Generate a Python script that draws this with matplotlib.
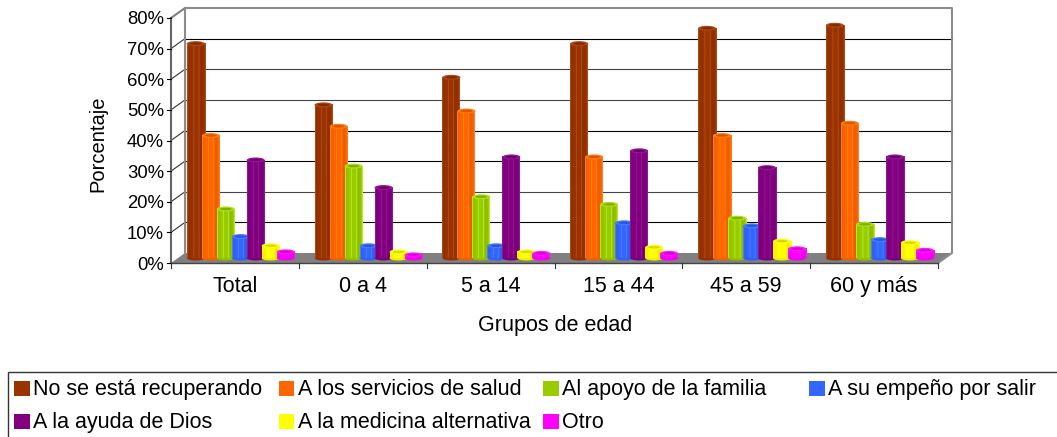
import numpy as np
import matplotlib
matplotlib.use("Agg")
import matplotlib.pyplot as plt
from matplotlib.patches import Ellipse, Polygon, Rectangle
from matplotlib.colors import to_rgb

plt.rcParams['font.family'] = ['Liberation Sans', 'DejaVu Sans']

grupos = ["Total", "0 a 4", "5 a 14", "15 a 44", "45 a 59", "60 y más"]
series = ["No se está recuperando", "A los servicios de salud", "Al apoyo de la familia",
          "A su empeño por salir", "A la ayuda de Dios", "A la medicina alternativa", "Otro"]
colores = ["#993300", "#FF6600", "#99CC00", "#3366FF", "#800080", "#FFFF00", "#FF00FF"]

no_recupera = [70, 50, 59, 70, 75, 76]
servicios = [40, 43, 48, 33, 40, 44]
familia = [16, 30, 20, 17.5, 13, 11]
empeno = [7, 4, 4, 11.5, 10.5, 6]
dios = [32, 23, 33, 35, 29.5, 33]
alternativa = [4, 2, 2, 3.5, 5.5, 5]
otro = [2, 1, 1.5, 1.5, 3, 2.5]
valores = [no_recupera, servicios, familia, empeno, dios, alternativa, otro]
ticks_y = list(range(0, 90, 10))

W, H = 1057, 437
fig = plt.figure(figsize=(W / 100, H / 100), dpi=100)
# front plane of the fake 3d box: x 171-938 px, y 18-263 px
ax = fig.add_axes([171 / W, 1 - 263 / H, (938 - 171) / W, (263 - 18) / H])
ax.set_xlim(0, 6)
ax.set_ylim(0, 80)
ax.axis("off")

px = 6 / (938 - 171)
py = 80 / (263 - 18)
dx, dy = 14 * px, 10 * py

# back wall and floor
ax.add_patch(Polygon([(0, 0), (dx, dy), (6 + dx, dy), (6, 0)], fc="#808080", ec="none", clip_on=False, zorder=1))
for t in ticks_y[1:-1]:
    gris = "#000000" if t in (70, 40, 30, 10) else "#444444"
    ax.plot([dx, 6 + dx], [t + dy, t + dy], color=gris, lw=0.8, clip_on=False, zorder=1)
    ax.plot([0, dx], [t, t + dy], color="#333333", lw=0.8, clip_on=False, zorder=1)
ax.plot([0, dx], [80, 80 + dy], color="#808080", lw=1.5, clip_on=False, zorder=1)
ax.plot([dx, dx, 6 + dx, 6 + dx, 6], [dy, 80 + dy, 80 + dy, dy, 0], color="#8c8c8c", lw=1.5, clip_on=False, zorder=1)
ax.plot([0, 0], [0, 80], color="#666666", lw=1.5, clip_on=False, zorder=2)
ax.plot([0, 6], [0, 0], color="#444444", lw=1, clip_on=False, zorder=2)

for t in ticks_y:
    ax.plot([-4 * px, 0], [t, t], color="k", lw=0.8, clip_on=False, zorder=2)
    ax.text(-7 * px, t, f"{t}%", ha="right", va="center_baseline", fontsize=13.3, color="k")
for i in range(7):
    ax.plot([i, i], [0, -5 * py], color="#333333", lw=0.8, clip_on=False, zorder=2)
for i, g in enumerate(grupos):
    ax.text(i + 0.5, -29 * py, g, ha="center", va="baseline", fontsize=15.5, color="k")


def cilindro(x, v, color, z):
    ancho = 18 * px
    y0 = 5 * py
    rgb = np.array(to_rgb(color))
    # shading across the body: soft edges, faint light bands
    perfil = np.array([1.08, 0.96, 0.96, 0.97, 1.0, 1.0, 1.06, 1.0, 1.0, 1.0, 1.0, 1.06, 0.98, 0.93, 0.93, 0.95, 1.02, 1.1])
    fila = np.clip(rgb[None, :] * perfil[:, None] + (perfil[:, None] > 1.05) * 0.06, 0, 1)
    ax.imshow(fila[None, :, :], extent=[x - ancho / 2, x + ancho / 2, y0, y0 + v], aspect="auto",
              interpolation="bilinear", zorder=z, clip_on=False)
    ax.add_patch(Ellipse((x, y0), ancho, 5 * py, fc=rgb * 0.95, ec="none", clip_on=False, zorder=z - 0.1))
    ax.add_patch(Ellipse((x, y0 + v), ancho, 5 * py, fc=np.clip(rgb + 0.08, 0, 1), ec="none", clip_on=False, zorder=z + 0.1))
    ax.add_patch(Ellipse((x, y0 + v), ancho - 6 * px, 2.5 * py, fc=rgb * 0.85, ec="none", clip_on=False, zorder=z + 0.2))


z = 3
for g in range(len(grupos)):
    for s in range(len(series)):
        cilindro(g + (24.7 + 15 * s) * px, valores[s][g], colores[s], z)
        z += 1
ax.set_xlim(0, 6)
ax.set_ylim(0, 80)

fig.text(98 / W, 1 - 144 / H, "Porcentaje", rotation=90, ha="center", va="center", fontsize=14.5)
fig.text(555 / W, 1 - 326 / H, "Grupos de edad", ha="center", va="center", fontsize=15.5)

# legend box, runs off the right and bottom of the picture
fig.add_artist(Rectangle((7.5 / W, 1 - 445 / H), 1060 / W, 73 / H, transform=fig.transFigure, fc="white", ec="#333333", lw=1))
col_x = [14, 279, 543, 809]
for i, (nombre, c) in enumerate(zip(series, colores)):
    xx = col_x[i % 4]
    yy = 388.5 if i < 4 else 421.5
    fig.add_artist(Rectangle((xx / W, 1 - (yy + 7.7) / H), 15.5 / W, 15.5 / H, transform=fig.transFigure, fc=c, ec="none"))
    fig.text((xx + 19) / W, 1 - (yy + 6.5) / H, nombre, ha="left", va="baseline", fontsize=15.5)

fig.savefig("out.png", dpi=100)
